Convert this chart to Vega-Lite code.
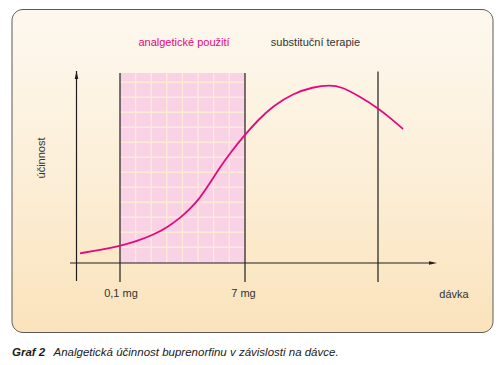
{
  "$schema": "https://vega.github.io/schema/vega-lite/v6.json",
  "width": 504,
  "height": 365,
  "autosize": {"type": "fit", "contains": "padding"},
  "padding": 0,
  "background": "#ffffff",
  "config": {"view": {"stroke": null}},
  "datasets": {
    "box": [{"x1": 12, "x2": 493, "y1": 355.5, "y2": 32.5}],
    "zone": [{"x1": 120, "x2": 245, "y1": 292, "y2": 102}],
    "grid": [
      {"x1": 135.6, "x2": 135.6, "y1": 102, "y2": 292},
      {"x1": 151.2, "x2": 151.2, "y1": 102, "y2": 292},
      {"x1": 166.8, "x2": 166.8, "y1": 102, "y2": 292},
      {"x1": 182.4, "x2": 182.4, "y1": 102, "y2": 292},
      {"x1": 198.0, "x2": 198.0, "y1": 102, "y2": 292},
      {"x1": 213.6, "x2": 213.6, "y1": 102, "y2": 292},
      {"x1": 229.2, "x2": 229.2, "y1": 102, "y2": 292},
      {"x1": 120, "x2": 245, "y1": 282.7, "y2": 282.7},
      {"x1": 120, "x2": 245, "y1": 267.7, "y2": 267.7},
      {"x1": 120, "x2": 245, "y1": 252.7, "y2": 252.7},
      {"x1": 120, "x2": 245, "y1": 237.7, "y2": 237.7},
      {"x1": 120, "x2": 245, "y1": 222.7, "y2": 222.7},
      {"x1": 120, "x2": 245, "y1": 207.7, "y2": 207.7},
      {"x1": 120, "x2": 245, "y1": 192.7, "y2": 192.7},
      {"x1": 120, "x2": 245, "y1": 177.7, "y2": 177.7},
      {"x1": 120, "x2": 245, "y1": 162.7, "y2": 162.7},
      {"x1": 120, "x2": 245, "y1": 147.7, "y2": 147.7},
      {"x1": 120, "x2": 245, "y1": 132.7, "y2": 132.7},
      {"x1": 120, "x2": 245, "y1": 117.7, "y2": 117.7}
    ],
    "frame": [
      {"x1": 120, "x2": 120, "y1": 292, "y2": 83},
      {"x1": 245, "x2": 245, "y1": 292, "y2": 83},
      {"x1": 378, "x2": 378, "y1": 293.5, "y2": 83},
      {"x1": 76.5, "x2": 76.5, "y1": 294, "y2": 84},
      {"x1": 70, "x2": 433, "y1": 102, "y2": 102}
    ],
    "arrows": [
      {"x": 76.5, "y": 294, "shape": "up"},
      {"x": 433.5, "y": 102, "shape": "right"}
    ],
    "curve": [
      {"dose": 80, "effect": 111.7},
      {"dose": 100, "effect": 115},
      {"dose": 120, "effect": 119},
      {"dose": 137, "effect": 124},
      {"dose": 153, "effect": 130},
      {"dose": 167, "effect": 137.5},
      {"dose": 180, "effect": 147},
      {"dose": 190, "effect": 156},
      {"dose": 200, "effect": 167},
      {"dose": 210, "effect": 182},
      {"dose": 220, "effect": 198},
      {"dose": 231, "effect": 213},
      {"dose": 243, "effect": 228},
      {"dose": 258, "effect": 245},
      {"dose": 273, "effect": 259},
      {"dose": 293, "effect": 271.5},
      {"dose": 313, "effect": 278},
      {"dose": 330, "effect": 280},
      {"dose": 342, "effect": 278},
      {"dose": 357, "effect": 270},
      {"dose": 378, "effect": 257},
      {"dose": 392, "effect": 245.5},
      {"dose": 403, "effect": 236}
    ],
    "labels": [
      {"x": 184, "y": 322, "text": "analgetické použití", "kind": "zone"},
      {"x": 315.5, "y": 322, "text": "substituční terapie", "kind": "plain"},
      {"x": 121, "y": 71.5, "text": "0,1 mg", "kind": "plain"},
      {"x": 243.5, "y": 71.5, "text": "7 mg", "kind": "plain"},
      {"x": 454, "y": 70, "text": "dávka", "kind": "plain"}
    ]
  },
  "layer": [
    {
      "data": {"name": "box"},
      "mark": {
        "type": "rect",
        "cornerRadius": 11,
        "stroke": "#5a5a5a",
        "strokeWidth": 1,
        "fill": {
          "gradient": "linear",
          "x1": 0, "y1": 0, "x2": 0, "y2": 1,
          "stops": [
            {"offset": 0, "color": "#fdf8ef"},
            {"offset": 0.5, "color": "#fcefd8"},
            {"offset": 1, "color": "#fae3bb"}
          ]
        }
      },
      "encoding": {
        "x": {"field": "x1", "type": "quantitative", "scale": {"domain": [0, 504], "nice": false, "zero": false}, "axis": null},
        "x2": {"field": "x2"},
        "y": {"field": "y1", "type": "quantitative", "scale": {"domain": [0, 365], "nice": false, "zero": false}, "axis": null},
        "y2": {"field": "y2"}
      }
    },
    {
      "data": {"name": "zone"},
      "mark": {"type": "rect", "fill": "#f9d2e6"},
      "encoding": {
        "x": {"field": "x1", "type": "quantitative"},
        "x2": {"field": "x2"},
        "y": {"field": "y1", "type": "quantitative"},
        "y2": {"field": "y2"}
      }
    },
    {
      "data": {"name": "grid"},
      "mark": {"type": "rule", "stroke": "#fcecd6", "strokeWidth": 1.4},
      "encoding": {
        "x": {"field": "x1", "type": "quantitative"},
        "x2": {"field": "x2"},
        "y": {"field": "y1", "type": "quantitative"},
        "y2": {"field": "y2"}
      }
    },
    {
      "data": {"name": "frame"},
      "mark": {"type": "rule", "stroke": "#1e1e1e", "strokeWidth": 1.2},
      "encoding": {
        "x": {"field": "x1", "type": "quantitative"},
        "x2": {"field": "x2"},
        "y": {"field": "y1", "type": "quantitative"},
        "y2": {"field": "y2"}
      }
    },
    {
      "data": {"name": "arrows"},
      "transform": [{"filter": "datum.shape == 'up'"}],
      "mark": {"type": "point", "shape": "M0,-1L-0.45,1L0.45,1Z", "filled": true, "color": "#1e1e1e", "size": 64, "opacity": 1, "yOffset": 4},
      "encoding": {
        "x": {"field": "x", "type": "quantitative"},
        "y": {"field": "y", "type": "quantitative"}
      }
    },
    {
      "data": {"name": "arrows"},
      "transform": [{"filter": "datum.shape == 'right'"}],
      "mark": {"type": "point", "shape": "M1,0L-1,-0.45L-1,0.45Z", "filled": true, "color": "#1e1e1e", "size": 64, "opacity": 1, "xOffset": -0.5},
      "encoding": {
        "x": {"field": "x", "type": "quantitative"},
        "y": {"field": "y", "type": "quantitative"}
      }
    },
    {
      "data": {"name": "curve"},
      "mark": {"type": "line", "color": "#e5097f", "strokeWidth": 1.8, "interpolate": "basis"},
      "encoding": {
        "x": {"field": "dose", "type": "quantitative"},
        "y": {"field": "effect", "type": "quantitative"}
      }
    },
    {
      "data": {"name": "labels"},
      "mark": {"type": "text", "font": "Liberation Sans", "fontSize": 11, "align": "center", "baseline": "middle"},
      "encoding": {
        "x": {"field": "x", "type": "quantitative"},
        "y": {"field": "y", "type": "quantitative"},
        "text": {"field": "text"},
        "color": {"field": "kind", "type": "nominal", "scale": {"domain": ["zone", "plain"], "range": ["#e5097f", "#333333"]}, "legend": null}
      }
    },
    {
      "data": {"values": [{"x": 41.5, "y": 207, "text": "účinnost"}]},
      "mark": {"type": "text", "font": "Liberation Sans", "fontSize": 11, "angle": 270, "align": "center", "baseline": "middle", "color": "#333333"},
      "encoding": {
        "x": {"field": "x", "type": "quantitative"},
        "y": {"field": "y", "type": "quantitative"},
        "text": {"field": "text"}
      }
    },
    {
      "data": {"values": [{"x": 12, "y": 12.5, "text": "Graf 2"}]},
      "mark": {"type": "text", "font": "Liberation Sans", "fontSize": 11.5, "fontStyle": "italic", "fontWeight": "bold", "align": "left", "baseline": "middle", "color": "#1a1a1a"},
      "encoding": {
        "x": {"field": "x", "type": "quantitative"},
        "y": {"field": "y", "type": "quantitative"},
        "text": {"field": "text"}
      }
    },
    {
      "data": {"values": [{"x": 53.5, "y": 12.5, "text": "Analgetická účinnost buprenorfinu v závislosti na dávce."}]},
      "mark": {"type": "text", "font": "Liberation Sans", "fontSize": 11.5, "fontStyle": "italic", "align": "left", "baseline": "middle", "color": "#1a1a1a"},
      "encoding": {
        "x": {"field": "x", "type": "quantitative"},
        "y": {"field": "y", "type": "quantitative"},
        "text": {"field": "text"}
      }
    }
  ]
}
